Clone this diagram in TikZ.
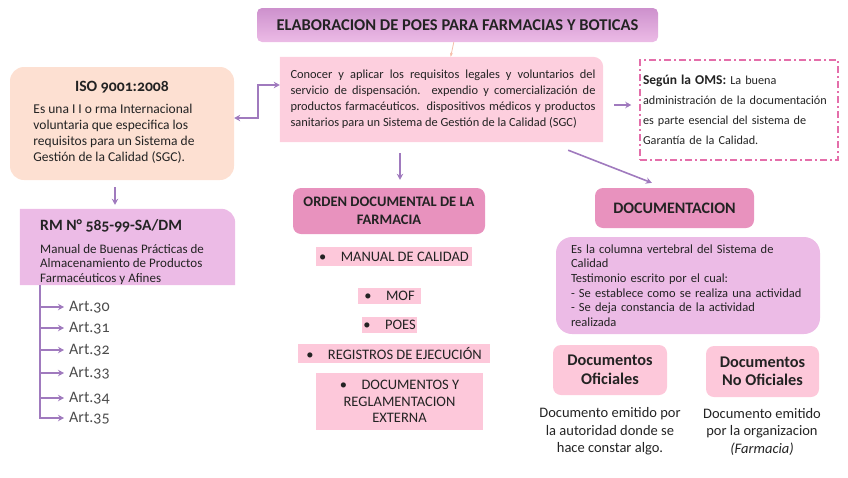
\documentclass[tikz,border=0pt]{standalone}
\usepackage{fontspec}
\setmainfont{Carlito}[Numbers=OldStyle]
\usetikzlibrary{positioning,arrows.meta,backgrounds,calc}
\definecolor{cPeach}{RGB}{253,224,210}
\definecolor{cRose}{RGB}{253,207,222}
\definecolor{cOrchid}{RGB}{236,187,230}
\definecolor{cHead}{RGB}{205,145,205}
\definecolor{cDeep}{RGB}{232,146,190}
\definecolor{cItem}{RGB}{253,200,218}
\definecolor{cArrow}{RGB}{160,122,190}
\definecolor{cDash}{RGB}{228,110,170}
\definecolor{cSoft}{RGB}{245,190,170}
\definecolor{cTxt}{RGB}{35,35,35}
\newcommand\jline[1]{\makebox[305pt][s]{#1}}

\begin{document}
\begin{tikzpicture}[x=1pt,y=-1pt,text=cTxt]
\tikzset{
  b/.style={rounded corners=8pt,inner sep=0pt,align=center},
  itm/.style={fill=cItem,inner sep=0pt,align=center,font=\fontsize{14.5}{16.5}\selectfont},
  hd/.style={font=\bfseries\fontsize{15.7}{18}\selectfont},
  art/.style={anchor=west,inner sep=3pt,text=black!70,font=\fontsize{16}{18}\selectfont},
  ar/.style={-{Stealth[length=6pt,width=6.5pt]},draw=cArrow,line width=1.6pt},
  ar2/.style={{Stealth[length=6pt,width=6.5pt]}-{Stealth[length=6pt,width=6.5pt]},draw=cArrow,line width=1.6pt}
}
\useasboundingbox (0,0) rectangle (848,477);

% top
\node[b,rounded corners=5pt,minimum width=401,minimum height=34,top color=cHead,bottom color=cOrchid,
  font=\bfseries\fontsize{16.5}{18}\selectfont] (head) at (457.5,25) {ELABORACION DE POES PARA FARMACIAS Y BOTICAS};
\node[inner sep=0pt,minimum width=323,minimum height=85,align=left,font=\fontsize{12.4}{16}\selectfont] (cen) at (441.5,99.5)
  {\hspace*{3pt}\jline{Conocer y aplicar los requisitos legales y voluntarios del}\\
   \hspace*{3pt}\jline{servicio de dispensación. expendio y comercialización de}\\
   \hspace*{3pt}\jline{productos farmacéuticos. dispositivos médicos y productos}\\
   \hspace*{3pt}sanitarios para un Sistema de Gestión de la Calidad (SGC)};
\draw[-{Stealth[length=4pt]},cSoft,line width=0.8pt] (head) -- (cen);

% left column
\node[b,rounded corners=14pt,fill=cPeach,minimum width=224,minimum height=113] (iso) at (122,123.5) {};
\node[hd] (isoT) at (122,87) {ISO 9001:2008};
\node[align=left,inner sep=0pt,font=\fontsize{13.5}{16}\selectfont] (isoX) at (114,133.5)
  {Es una I I o rma Internacional\\voluntaria que especifica los\\requisitos para un Sistema de\\Gestión de la Calidad (SGC).};
\draw[ar2] ([yshift=5.5pt]iso.east) -- ++(24,0) |- ([yshift=14.5pt]cen.west);

\node[inner sep=0pt,minimum width=215,minimum height=76] (rm) at (127.5,247) {};
\node[hd,anchor=west,inner sep=0pt] (rmT) at (40,226) {RM N° 585-99-SA/DM};
\node[anchor=west,align=left,inner sep=0pt,font=\fontsize{13}{14.5}\selectfont] (rmX) at (40,264.5)
  {Manual de Buenas Prácticas de\\Almacenamiento de Productos\\Farmacéuticos y Afines};
\draw[ar,shorten <=7pt,shorten >=4pt] ([xshift=-7pt]iso.south) -- ([xshift=-7pt]iso.south |- rm.north);

\coordinate (trunk) at (40,285);
\foreach \n/\y in {30/307,31/328,32/350,33/373,34/398,35/418}{
  \node[art] (art\n) at (66,\y) {Art.\n};
  \draw[ar,shorten >=2pt] (trunk |- art\n) -- (art\n.west);
}
\draw[draw=cArrow,line width=1.6pt] (trunk) -- ([yshift=-0.8pt]trunk |- art35);

% middle column
\node[b,fill=cDeep,minimum width=192,minimum height=46,font=\bfseries\fontsize{14.5}{18}\selectfont] (orden) at (389,211)
  {ORDEN DOCUMENTAL DE LA\\FARMACIA};
\draw[ar,shorten <=11pt,shorten >=8pt] ([xshift=11pt]orden.north |- cen.south) -- ([xshift=11pt]orden.north);
\node[itm,minimum width=156,minimum height=19] (i1) at (394,256.5) {\textbullet\quad MANUAL DE CALIDAD};
\node[itm,minimum width=63,minimum height=16] (i2) at (389.5,296) {\textbullet\quad MOF};
\node[itm,minimum width=55,minimum height=16] (i3) at (389.5,325) {\textbullet\quad POES};
\node[itm,minimum width=192,minimum height=19] (i4) at (394,353.5) {\textbullet\quad REGISTROS DE EJECUCIÓN};
\node[itm,minimum width=167,minimum height=57] (i5) at (399.5,401.5) {\textbullet\quad DOCUMENTOS Y\\REGLAMENTACION\\EXTERNA};

% right column
\node[draw=cDash,line width=1.5pt,dash pattern=on 7pt off 3pt on 2pt off 3pt,minimum width=198,minimum height=100,
  inner sep=0pt,text width=192,align=left,font=\fontsize{12.2}{20}\selectfont] (oms) at (739,110)
  {{\bfseries\fontsize{13.5}{20}\selectfont Según la OMS:} La buena\\administración de la documentación\\es parte esencial del sistema de\\Garantía de la Calidad.};
\draw[ar,shorten <=11pt,shorten >=8pt] ([yshift=-5.5pt]cen.east) -- ([yshift=-5.5pt]cen.east -| oms.west);

\node[b,fill=cDeep,minimum width=159,minimum height=40,font=\bfseries\fontsize{16}{18}\selectfont] (doc) at (674.5,208) {DOCUMENTACION};
\draw[ar] ([shift={(-35pt,-8pt)}]cen.south east) -- ([shift={(57pt,5pt)}]doc.north west);
\node[b,rounded corners=16pt,fill=cOrchid,minimum width=264,minimum height=97,text width=234,align=left,
  font=\fontsize{12.5}{14.7}\selectfont] (docX) at (688,285.5)
  {Es la columna vertebral del Sistema de\\Calidad\\Testimonio escrito por el cual:\\- Se establece como se realiza una actividad\\- Se deja constancia de la actividad\\realizada};

\node[b,fill=cItem,minimum width=114,minimum height=50,font=\bfseries\fontsize{16.3}{18.5}\selectfont] (ofi) at (610,370) {Documentos\\Oficiales};
\node[b,fill=cItem,minimum width=113,minimum height=51,font=\bfseries\fontsize{16.3}{18.5}\selectfont] (nofi) at (762.5,371.5) {Documentos\\No Oficiales};
\node[align=center,font=\fontsize{14.5}{17.5}\selectfont] (ofiX) at (610,431.5) {Documento emitido por\\la autoridad donde se\\hace constar algo.};
\node[align=center,font=\fontsize{14.5}{17.5}\selectfont] (nofiX) at (762,431.5) {Documento emitido\\por la organizacion\\\textit{(Farmacia)}};

\begin{scope}[on background layer]
\fill[cRose] (cen.south west) -- (cen.north west) -- ([xshift=-10pt]cen.north east) arc[start angle=90,end angle=0,radius=10pt] -- (cen.south east) -- cycle;
\fill[cOrchid] (rm.south west) -- (rm.north west) -- ([xshift=-14pt]rm.north east) arc[start angle=90,end angle=0,radius=14pt] -- (rm.south east) -- cycle;
\end{scope}
\end{tikzpicture}
\end{document}
